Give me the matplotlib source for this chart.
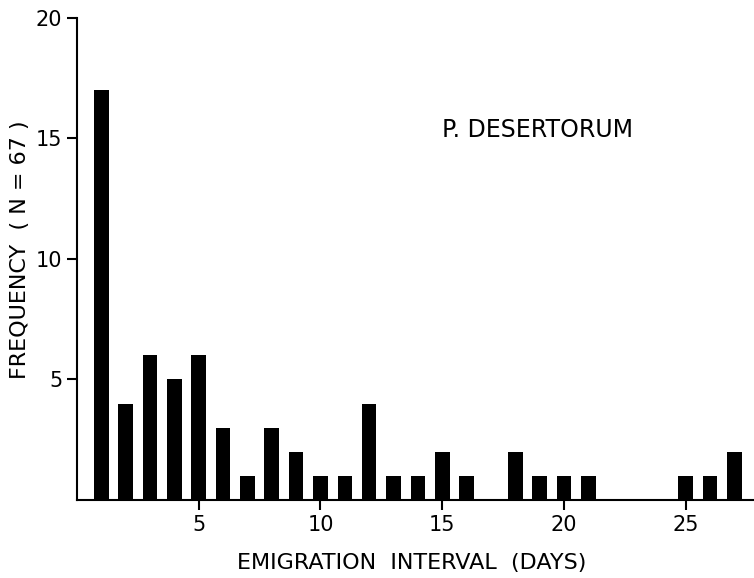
import matplotlib
matplotlib.use("Agg")
import matplotlib.pyplot as plt

# emigration interval (days) and number of emigrations
days = [1, 2, 3, 4, 5, 6, 7, 8, 9, 10, 11, 12, 13, 14, 15, 16, 18, 19, 20, 21, 25, 26, 27]
freq = [17, 4, 6, 5, 6, 3, 1, 3, 2, 1, 1, 4, 1, 1, 2, 1, 2, 1, 1, 1, 1, 1, 2]
xticks = [5, 10, 15, 20, 25]
yticks = [5, 10, 15, 20]

plt.rcParams["font.family"] = "DejaVu Sans"

fig = plt.figure(figsize=(7.54, 5.78), dpi=100)
ax = fig.add_axes([0.102, 0.135, 0.898, 0.834])

ax.bar(days, freq, width=0.6, color="black")

ax.set_xlim(0, 27.8)
ax.set_ylim(0, 20)
ax.set_xticks(xticks)
ax.set_yticks(yticks)
ax.tick_params(axis="both", direction="out", length=7, width=1.5, labelsize=15)
for side in ["top", "right"]:
    ax.spines[side].set_visible(False)
for side in ["left", "bottom"]:
    ax.spines[side].set_linewidth(1.5)

ax.set_xlabel("EMIGRATION  INTERVAL  (DAYS)", fontsize=16)
ax.xaxis.set_label_coords(0.495, -0.11)
ax.set_ylabel("FREQUENCY  ( N = 67 )", fontsize=16)
ax.yaxis.set_label_coords(-0.07, 0.52)
ax.text(15, 15.35, "P. DESERTORUM", fontsize=17, ha="left", va="center")

fig.savefig("out.png", dpi=100)
